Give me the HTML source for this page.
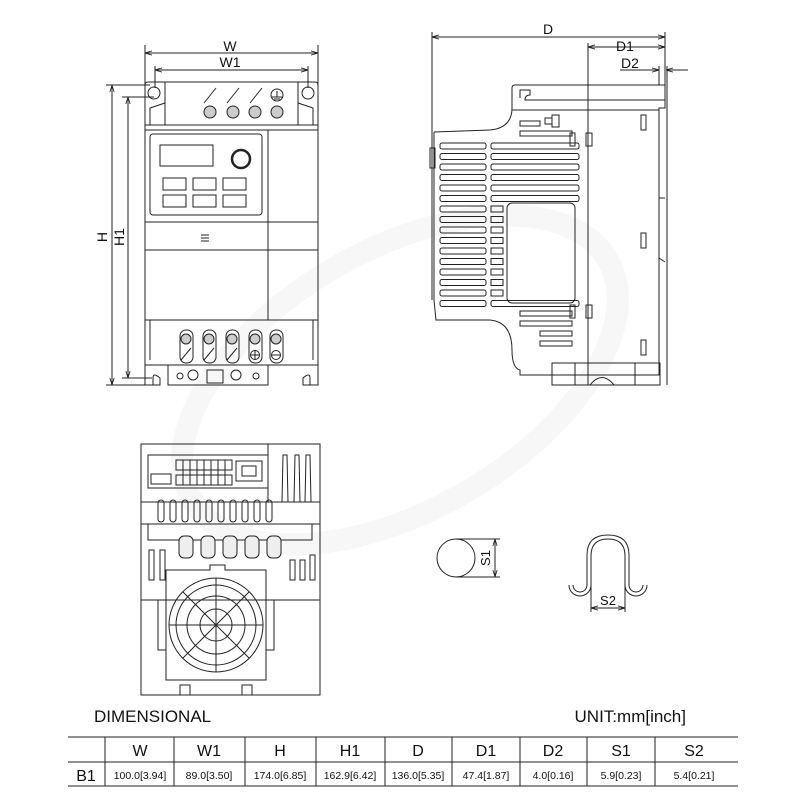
<!DOCTYPE html>
<html><head><meta charset="utf-8"><style>
body{margin:0;background:#fff}
svg{display:block}
text{font-family:"Liberation Sans",sans-serif;fill:#111}
</style></head><body>
<svg width="800" height="800" viewBox="0 0 800 800" xmlns="http://www.w3.org/2000/svg">
<defs>
<marker id="a" viewBox="0 0 10 10" refX="10" refY="5" markerWidth="7" markerHeight="7" orient="auto-start-reverse"><path d="M0,2 L10,5 L0,8" fill="none" stroke="#222" stroke-width="1.2"/></marker>
</defs>
<g fill="none" stroke="#222" stroke-width="1">
<!-- watermark -->
<ellipse cx="400" cy="380" rx="240" ry="130" stroke="#f7f7f7" stroke-width="22" transform="rotate(-30 400 380)"/>

<!-- FRONT VIEW dims -->
<line x1="145" y1="53" x2="318" y2="53" marker-start="url(#a)" marker-end="url(#a)"/>
<line x1="155" y1="70" x2="308" y2="70" marker-start="url(#a)" marker-end="url(#a)"/>
<line x1="145" y1="45" x2="145" y2="85"/><line x1="318" y1="45" x2="318" y2="85"/>
<line x1="155" y1="66" x2="155" y2="88"/><line x1="308" y1="66" x2="308" y2="88"/>
<line x1="112" y1="85" x2="112" y2="385" marker-start="url(#a)" marker-end="url(#a)"/>
<line x1="128" y1="97" x2="128" y2="378" marker-start="url(#a)" marker-end="url(#a)"/>
<line x1="106" y1="85" x2="150" y2="85"/><line x1="106" y1="385" x2="150" y2="385"/>
<line x1="122" y1="97" x2="154" y2="97"/><line x1="122" y1="378" x2="152" y2="378"/>

<!-- front top plate -->
<path d="M145,130 L145,85 Q145,82 148,82 L315,82 Q318,82 318,85 L318,130"/>
<circle cx="154" cy="93" r="6"/><circle cx="308" cy="93" r="6"/>
<line x1="165" y1="82" x2="165" y2="103"/><line x1="298" y1="82" x2="298" y2="103"/>
<path d="M150,125 L150,108 L165,103 L165,125 M313,125 L313,108 L298,103 L298,125"/>
<line x1="145" y1="125" x2="318" y2="125"/>
<g>
<line x1="204" y1="103" x2="216" y2="88"/><line x1="227" y1="103" x2="239" y2="88"/><line x1="250" y1="103" x2="262" y2="88"/>
<circle cx="277" cy="95" r="6"/><path d="M272,97 h10 M274,99 h6 M277,91 v6"/>
<circle cx="210" cy="112" r="6" fill="#ccc"/><circle cx="233" cy="112" r="6" fill="#ccc"/><circle cx="255" cy="112" r="6" fill="#ccc"/><circle cx="277" cy="112" r="6" fill="#ccc"/>
</g>
<!-- front body -->
<rect x="145" y="130" width="173" height="190"/>
<line x1="268" y1="130" x2="268" y2="320"/>
<rect x="150" y="134" width="112" height="81" rx="3"/>
<rect x="160" y="145" width="53" height="21"/>
<circle cx="241" cy="159" r="9" stroke-width="2.5"/>
<rect x="163" y="178" width="23" height="12"/><rect x="193" y="178" width="23" height="12"/><rect x="223" y="178" width="23" height="12"/>
<rect x="163" y="195" width="23" height="12"/><rect x="193" y="195" width="23" height="12"/><rect x="223" y="195" width="23" height="12"/>
<line x1="145" y1="222" x2="318" y2="222"/><line x1="145" y1="250" x2="318" y2="250"/>
<path d="M201,235 h8 M201,238 h8 M201,241 h8"/>
<!-- front bottom terminals -->
<rect x="145" y="320" width="173" height="45"/>
<path d="M150,320 L150,360 M313,320 L313,360"/>
<g>
<rect x="180" y="330" width="13" height="33" rx="6"/><rect x="203" y="330" width="13" height="33" rx="6"/><rect x="226" y="330" width="13" height="33" rx="6"/><rect x="249" y="330" width="13" height="33" rx="6"/><rect x="270" y="330" width="13" height="33" rx="6"/>
<circle cx="186" cy="339" r="5" fill="#ccc"/><circle cx="209" cy="339" r="5" fill="#ccc"/><circle cx="232" cy="339" r="5" fill="#ccc"/><circle cx="255" cy="339" r="5" fill="#ccc"/><circle cx="276" cy="339" r="5" fill="#ccc"/>
<line x1="181" y1="360" x2="191" y2="348"/><line x1="204" y1="360" x2="214" y2="348"/><line x1="227" y1="360" x2="237" y2="348"/>
<circle cx="255" cy="355" r="4.5"/><path d="M251,355h8M255,351v8"/><circle cx="276" cy="355" r="4.5"/><path d="M272,355h8"/>
</g>
<path d="M145,365 L145,385 L160,385 L160,378 Q153,372 153,378 L153,385 M318,365 L318,385 L303,385 L303,378 Q310,372 310,378 L310,385"/>
<rect x="168" y="365" width="100" height="20"/>
<circle cx="180" cy="376" r="3"/><circle cx="256" cy="376" r="3"/>
<circle cx="193" cy="375" r="5"/><circle cx="236" cy="375" r="5"/><rect x="207" y="370" width="16" height="13"/>
<text x="230" y="51" font-size="14" text-anchor="middle" stroke="none">W</text>
<text x="230" y="67" font-size="14" text-anchor="middle" stroke="none">W1</text>
<text transform="translate(107,237) rotate(-90)" font-size="14" text-anchor="middle" stroke="none">H</text>
<text transform="translate(124,237) rotate(-90)" font-size="14" text-anchor="middle" stroke="none">H1</text>

<!-- SIDE VIEW dims -->
<line x1="432" y1="37" x2="665" y2="37" marker-start="url(#a)" marker-end="url(#a)"/>
<line x1="588" y1="47" x2="665" y2="47" marker-start="url(#a)" marker-end="url(#a)"/>
<line x1="620" y1="70" x2="659" y2="70" marker-end="url(#a)"/><line x1="688" y1="70" x2="666" y2="70" marker-end="url(#a)"/>
<line x1="432" y1="32" x2="432" y2="300"/><line x1="665" y1="32" x2="665" y2="85"/>
<line x1="588" y1="43" x2="588" y2="385"/><line x1="659" y1="66" x2="659" y2="85"/>
<line x1="667" y1="66" x2="667" y2="385"/>
<text x="548" y="34" font-size="14" text-anchor="middle" stroke="none">D</text>
<text x="625" y="51" font-size="14" text-anchor="middle" stroke="none">D1</text>
<text x="630" y="68" font-size="14" text-anchor="middle" stroke="none">D2</text>
<!-- side outline -->
<path d="M434,132 L490,130 Q512,128 512,108 L512,88 Q512,85 515,85 L665,85 L665,108 L659,108 L659,375 L520,375 L520,370 Q512,368 512,350 Q512,322 490,320 L436,320 L434,300 L434,132"/>
<path d="M520,98 L520,90 L530,90 L530,95 Q525,95 525,100 L665,100"/>
<line x1="512" y1="110" x2="659" y2="110"/>
<rect x="430" y="148" width="5" height="20"/>
<rect x="552" y="115" width="7" height="12"/><rect x="545" y="118" width="7" height="6"/>
<rect x="520" y="121" width="20" height="5"/><rect x="520" y="131" width="52" height="5"/>
<g>
<rect x="440" y="143" width="46" height="6" rx="2"/><rect x="440" y="153.5" width="46" height="6" rx="2"/><rect x="440" y="164" width="46" height="6" rx="2"/><rect x="440" y="174.5" width="46" height="6" rx="2"/><rect x="440" y="185" width="46" height="6" rx="2"/><rect x="440" y="195.5" width="46" height="6" rx="2"/><rect x="440" y="206" width="46" height="6" rx="2"/><rect x="440" y="216.5" width="46" height="6" rx="2"/><rect x="440" y="227" width="46" height="6" rx="2"/><rect x="440" y="237.5" width="46" height="6" rx="2"/><rect x="440" y="248" width="46" height="6" rx="2"/><rect x="440" y="258.5" width="46" height="6" rx="2"/><rect x="440" y="269" width="46" height="6" rx="2"/><rect x="440" y="279.5" width="46" height="6" rx="2"/><rect x="440" y="290" width="46" height="6" rx="2"/><rect x="440" y="300.5" width="46" height="6" rx="2"/>
<rect x="491" y="143" width="88" height="6" rx="2"/><rect x="491" y="153.5" width="88" height="6" rx="2"/><rect x="491" y="164" width="88" height="6" rx="2"/><rect x="491" y="174.5" width="88" height="6" rx="2"/><rect x="491" y="185" width="88" height="6" rx="2"/><rect x="491" y="195.5" width="88" height="6" rx="2"/>
<rect x="491" y="206" width="12" height="6"/><rect x="491" y="216.5" width="12" height="6"/><rect x="491" y="227" width="12" height="6"/><rect x="491" y="237.5" width="12" height="6"/><rect x="491" y="248" width="12" height="6"/><rect x="491" y="258.5" width="12" height="6"/><rect x="491" y="269" width="12" height="6"/><rect x="491" y="279.5" width="12" height="6"/><rect x="491" y="290" width="12" height="6"/>
<rect x="491" y="300.5" width="88" height="6" rx="2"/>
<rect x="520" y="311" width="52" height="5"/><rect x="520" y="321" width="52" height="5"/><rect x="540" y="331" width="32" height="5"/><rect x="540" y="341" width="32" height="5"/>
</g>
<rect x="507" y="203" width="68" height="100" rx="5"/>
<rect x="570" y="133" width="5" height="13"/><rect x="586" y="133" width="6" height="13"/>
<rect x="570" y="305" width="5" height="13"/><rect x="586" y="305" width="6" height="13"/>
<rect x="641" y="115" width="5" height="15"/><rect x="641" y="233" width="5" height="15"/><rect x="641" y="340" width="5" height="15"/>
<path d="M665,198 L659,198 L659,258 L665,262"/>
<rect x="552" y="363" width="108" height="22"/>
<path d="M590,385 Q602,370 614,385"/>
<line x1="575" y1="363" x2="575" y2="385"/><line x1="635" y1="363" x2="635" y2="385"/>

<!-- BOTTOM VIEW -->
<rect x="141" y="444" width="179" height="251"/>
<line x1="268" y1="444" x2="268" y2="502"/>
<rect x="148" y="455" width="120" height="33"/>
<rect x="176" y="460" width="56" height="10"/><rect x="176" y="475" width="56" height="10"/>
<path d="M176,460 h56 M183,460v25 M190,460v25 M197,460v25 M204,460v25 M211,460v25 M218,460v25 M225,460v25"/>
<rect x="151" y="474" width="20" height="10"/>
<rect x="236" y="461" width="26" height="20"/>
<path d="M242,466 h14 v10 h-14z"/>
<path d="M282,502 L283,455 L287,455 L288,502 M294,502 L295,455 L299,455 L300,502 M305,502 L306,455 L310,455 L311,502"/>
<line x1="141" y1="502" x2="320" y2="502"/>
<g>
<rect x="158" y="500" width="6" height="22" rx="3"/><rect x="170" y="500" width="6" height="22" rx="3"/><rect x="182" y="500" width="6" height="22" rx="3"/><rect x="194" y="500" width="6" height="22" rx="3"/><rect x="206" y="500" width="6" height="22" rx="3"/><rect x="218" y="500" width="6" height="22" rx="3"/><rect x="230" y="500" width="6" height="22" rx="3"/><rect x="242" y="500" width="6" height="22" rx="3"/><rect x="254" y="500" width="6" height="22" rx="3"/><rect x="266" y="500" width="6" height="22" rx="3"/>
</g>
<path d="M148,524 L148,540 L312,540 L312,524 M141,524 L320,524"/>
<g fill="#eee">
<rect x="179" y="536" width="14" height="22" rx="5"/><rect x="201" y="536" width="14" height="22" rx="5"/><rect x="223" y="536" width="14" height="22" rx="5"/><rect x="245" y="536" width="14" height="22" rx="5"/><rect x="267" y="536" width="14" height="22" rx="5"/>
</g>
<rect x="149" y="550" width="5" height="30"/><rect x="160" y="550" width="5" height="30"/>
<rect x="290" y="560" width="5" height="20"/><rect x="300" y="560" width="5" height="20"/><rect x="310" y="555" width="5" height="25"/>
<line x1="141" y1="600" x2="320" y2="600"/>
<path d="M166,680 L166,570 L210,570 L210,565 L225,565 L225,570 L266,570 L266,680 Z"/>
<circle cx="216" cy="625" r="47"/><circle cx="216" cy="625" r="40"/><circle cx="216" cy="625" r="29"/><circle cx="216" cy="625" r="16"/>
<path d="M216,578 v94 M169,625 h94 M183,592 L249,658 M249,592 L183,658"/>
<rect x="158" y="600" width="8" height="50"/><rect x="266" y="600" width="8" height="50"/>
<path d="M180,695 v-10 h10 v10 M242,695 v-10 h10 v10"/>

<!-- small parts -->
<circle cx="456" cy="558" r="19"/>
<line x1="456" y1="539" x2="500" y2="539"/><line x1="456" y1="577" x2="500" y2="577"/>
<line x1="495" y1="539" x2="495" y2="577" marker-start="url(#a)" marker-end="url(#a)"/>
<text transform="translate(490,558) rotate(-90)" font-size="13" text-anchor="middle" stroke="none">S1</text>
<path d="M587,585 L587,555 Q587,535 608,535 Q629,535 629,555 L629,585"/>
<path d="M591,585 L591,556 Q591,539 608,539 Q625,539 625,556 L625,585"/>
<path d="M587,585 A7,7 0 0 1 573,585 M591,585 A11,11 0 0 1 569,585"/>
<path d="M629,585 A7,7 0 0 0 643,585 M625,585 A11,11 0 0 0 647,585"/>
<line x1="591" y1="585" x2="591" y2="612"/><line x1="625" y1="585" x2="625" y2="612"/>
<line x1="591" y1="608" x2="625" y2="608" marker-start="url(#a)" marker-end="url(#a)"/>
<text x="608" y="605" font-size="13" text-anchor="middle" stroke="none">S2</text>

<!-- TABLE -->
<path d="M68,737 H738 M68,762 H738 M68,786 H738"/>
<path d="M105,737 V786 M174,737 V786 M245,737 V786 M316,737 V786 M385,737 V786 M452,737 V786 M520,737 V786 M587,737 V786 M655,737 V786"/>
</g>
<g stroke="none">
<text x="94" y="722" font-size="17">DIMENSIONAL</text>
<text x="686" y="722" font-size="17" text-anchor="end">UNIT:mm[inch]</text>
<g font-size="16" text-anchor="middle">
<text x="140" y="756">W</text><text x="209" y="756">W1</text><text x="280" y="756">H</text><text x="350" y="756">H1</text><text x="418" y="756">D</text><text x="486" y="756">D1</text><text x="553" y="756">D2</text><text x="621" y="756">S1</text><text x="694" y="756">S2</text>
<text x="86" y="781">B1</text>
</g>
<g font-size="10.5" text-anchor="middle">
<text x="140" y="779">100.0[3.94]</text><text x="209" y="779">89.0[3.50]</text><text x="280" y="779">174.0[6.85]</text><text x="350" y="779">162.9[6.42]</text><text x="418" y="779">136.0[5.35]</text><text x="486" y="779">47.4[1.87]</text><text x="553" y="779">4.0[0.16]</text><text x="621" y="779">5.9[0.23]</text><text x="694" y="779">5.4[0.21]</text>
</g>
</g>
</svg>
</body></html>
